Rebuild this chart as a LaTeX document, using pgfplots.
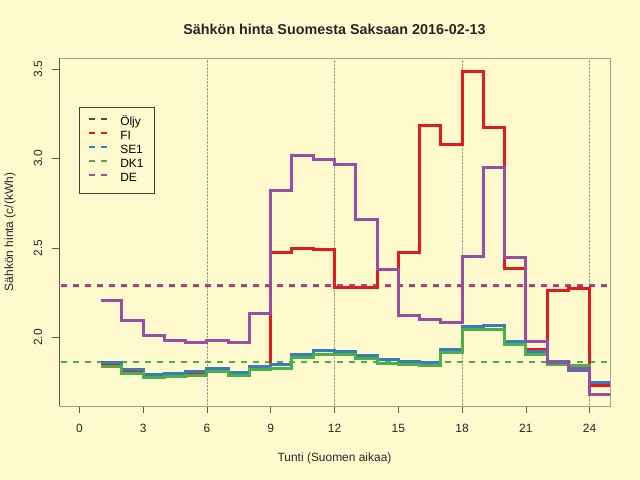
\documentclass[border=0pt]{standalone}
\usepackage{fontspec}
\setmainfont{Liberation Sans}
\usepackage{pgfplots}
\pgfplotsset{compat=1.18}
\definecolor{bg}{RGB}{255,250,205}
\definecolor{cFI}{RGB}{228,26,28}
\definecolor{cSE}{RGB}{55,126,184}
\definecolor{cDK}{RGB}{77,175,74}
\definecolor{cDE}{RGB}{152,78,163}
\definecolor{cOil}{RGB}{77,77,77}
\definecolor{boxgray}{RGB}{165,160,145}
\definecolor{axdark}{RGB}{90,90,90}
\begin{document}
\begin{tikzpicture}
\useasboundingbox (-59bp,-74bp) rectangle (581bp,406bp);
\fill[bg] (-59bp,-74bp) rectangle (581bp,406bp);
\begin{axis}[
  at={(0,0)}, anchor=south west,
  scale only axis, width=551bp, height=348bp,
  xmin=-0.96, xmax=24.96, ymin=1.617, ymax=3.562,
  axis background/.style={fill=bg},
  axis line style={draw=boxgray, line width=0.8bp},
  xtick={0,3,...,24},
  ytick={2,2.5,3,3.5}, yticklabels={2.0,2.5,3.0,3.5},
  xtick pos=bottom, ytick pos=left,
  tick align=outside, major tick length=7bp,
  tick style={draw=axdark, line width=0.6bp},
  ticklabel style={font=\fontsize{12}{14}\selectfont, text=black!85},
  /pgf/number format/assume math mode=true,
  xticklabel style={anchor=center, yshift=-15bp},
  yticklabel style={anchor=center, xshift=-14bp, rotate=90},
  extra x ticks={6,12,18,24}, extra x tick labels={},
  extra x tick style={grid=major, major tick length=0pt,
     major grid style={densely dotted, gray!80, line width=0.7bp}},
  legend cell align=left,
  legend style={at={(axis description cs:0.0363,0.858)}, anchor=north west,
     draw=black!75, line width=0.6bp, fill=none,
     inner xsep=9bp, inner ysep=8bp, column sep=10bp, row sep=0pt,
     font=\fontsize{12}{14}\selectfont,
     nodes={text height=9bp, text depth=3bp, inner ysep=1bp}},
  legend image code/.code={\draw[#1] (0bp,3.5bp) -- (18bp,3.5bp);},
  clip=true,
]
\addlegendimage{cOil, line width=2bp, dash pattern=on 6bp off 6bp}
\addlegendentry{Öljy}
\addlegendimage{cFI, line width=2bp, dash pattern=on 6bp off 6bp}
\addlegendentry{FI}
\addlegendimage{cSE, line width=2bp, dash pattern=on 6bp off 6bp}
\addlegendentry{SE1}
\addlegendimage{cDK, line width=2bp, dash pattern=on 6bp off 6bp}
\addlegendentry{DK1}
\addlegendimage{cDE, line width=2bp, dash pattern=on 6bp off 6bp}
\addlegendentry{DE}
% averages
\addplot[forget plot, cFI, line width=1.6bp, dash pattern=on 6bp off 6bp] coordinates {(-2,2.285) (27,2.285)};
\addplot[forget plot, cSE, line width=1.6bp, dash pattern=on 6bp off 6bp] coordinates {(-2,1.863) (27,1.863)};
\addplot[forget plot, cDK, line width=1.6bp, dash pattern=on 6bp off 6bp] coordinates {(-2,1.863) (27,1.863)};
\addplot[forget plot, cDE, line width=1.6bp, dash pattern=on 6bp off 6bp] coordinates {(-2,2.292) (27,2.292)};
% FI
\addplot[forget plot, const plot, cFI, line width=3bp] coordinates {
(1,1.848) (2,1.812) (3,1.785) (4,1.791) (5,1.800) (6,1.818) (7,1.796) (8,1.830)
(9,2.473) (10,2.497) (11,2.491) (12,2.282) (13,2.278) (14,2.379) (15,2.473) (16,3.186)
(17,3.081) (18,3.489) (19,3.173) (20,2.385) (21,1.933) (22,2.260) (23,2.273) (24,1.729) (25,1.729)};
% SE1
\addplot[forget plot, const plot, cSE, line width=3bp] coordinates {
(1,1.858) (2,1.823) (3,1.795) (4,1.800) (5,1.808) (6,1.828) (7,1.804) (8,1.840)
(9,1.851) (10,1.907) (11,1.925) (12,1.922) (13,1.901) (14,1.875) (15,1.866) (16,1.862)
(17,1.935) (18,2.062) (19,2.066) (20,1.976) (21,1.922) (22,1.866) (23,1.817) (24,1.748) (25,1.748)};
% DK1
\addplot[forget plot, const plot, cDK, line width=3bp] coordinates {
(1,1.838) (2,1.800) (3,1.776) (4,1.782) (5,1.789) (6,1.808) (7,1.785) (8,1.823)
(9,1.826) (10,1.890) (11,1.907) (12,1.905) (13,1.882) (14,1.856) (15,1.851) (16,1.845)
(17,1.916) (18,2.043) (19,2.047) (20,1.959) (21,1.907) (22,1.851) (23,1.841) (24,1.683) (25,1.683)};
% DE
\addplot[forget plot, const plot, cDE, line width=3bp] coordinates {
(1,2.207) (2,2.095) (3,2.009) (4,1.983) (5,1.974) (6,1.983) (7,1.974) (8,2.133)
(9,2.820) (10,3.018) (11,2.996) (12,2.968) (13,2.659) (14,2.379) (15,2.122) (16,2.103)
(17,2.081) (18,2.454) (19,2.951) (20,2.447) (21,1.976) (22,1.862) (23,1.824) (24,1.680) (25,1.680)};
\draw[axdark, line width=0.8bp] (rel axis cs:0,0) -- (rel axis cs:0,1);
\draw[axdark, line width=0.8bp] (rel axis cs:0,0) -- (rel axis cs:1,0);
\end{axis}
\node[font=\bfseries\fontsize{14.4}{17}\selectfont, text=black!85] at (275.5bp,377bp) {Sähkön hinta Suomesta Saksaan 2016-02-13};
\node[font=\fontsize{12}{14}\selectfont, text=black!85] at (275.5bp,-52bp) {Tunti (Suomen aikaa)};
\node[font=\fontsize{12}{14}\selectfont, text=black!85, rotate=90] at (-49bp,174bp) {Sähkön hinta (c/(kWh)};
\end{tikzpicture}
\end{document}
